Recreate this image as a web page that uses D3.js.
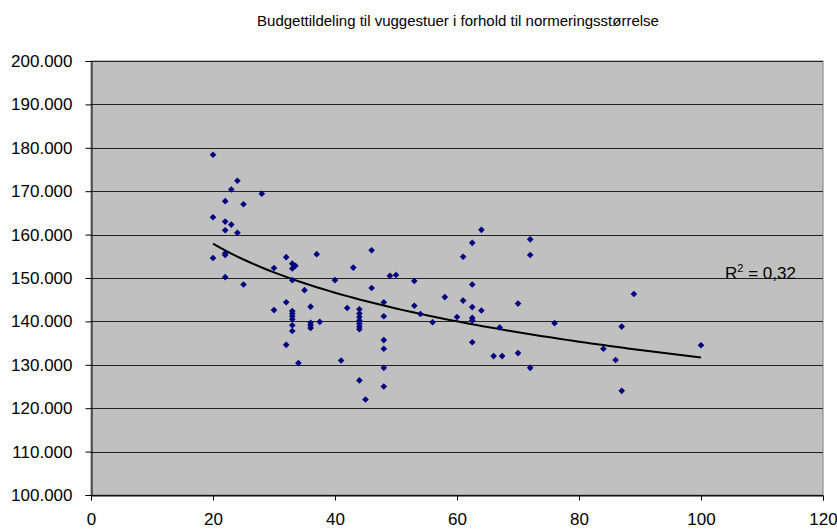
<!DOCTYPE html>
<html>
<head>
<meta charset="utf-8">
<script src="https://cdn.jsdelivr.net/npm/d3@7"></script>
<style>
  body { margin: 0; background: #fff; }
  svg text { font-family: "Liberation Sans", Arial, sans-serif; }
</style>
</head>
<body>
<svg id="chart" width="837" height="530"></svg>
<script>
// Budget allocation vs. normering size (scatter + log trendline)
const title = 'Budgettildeling til vuggestuer i forhold til normeringsstørrelse';

const normering = [
    20, 24, 23, 28, 22, 25, 20, 22, 23, 22, 24, 20, 22, 22, 22, 25,
    32, 30, 33, 33.5, 33, 33, 32, 30, 33, 33, 33, 33, 33, 33, 32, 34,
    37, 40, 43, 46, 49, 50, 53, 35, 46, 36, 48, 42, 44, 53, 54, 58,
    61, 62.5, 60, 62.5, 62.5, 62.5, 64, 56, 48, 36, 36, 36, 37.5,
    44, 44, 44, 44, 44, 44, 48, 48, 48, 48, 41, 44, 45,
    64, 62.5, 61, 72, 72, 62.5, 70, 89, 67, 76, 87, 66, 67.4, 70, 72,
    84, 86, 87, 100
];
const budget = [
    178400, 172400, 170400, 169400, 167700, 167000, 164000, 163000, 162300, 161000, 160400, 154600, 155700, 155300, 150200, 148500,
    154800, 152300, 153300, 152800, 152200, 149500, 144400, 142600, 142400, 141800, 141200, 140500, 139100, 137800, 134600, 130400,
    155500, 149500, 152400, 156400, 150500, 150700, 149300, 147200, 147700, 143400, 144400, 143100, 142800, 143600, 141700, 145600,
    144800, 143300, 141000, 140800, 140200, 135200, 142500, 139800, 141200, 139700, 139100, 138500, 139900,
    141800, 141000, 140200, 139500, 138800, 138200, 135700, 133700, 129300, 125000, 131000, 126400, 122000,
    161100, 158100, 154900, 158900, 155300, 148500, 144100, 146300, 138600, 139600, 138800, 132000, 132000, 132700, 129300,
    133700, 131100, 124000, 134500
];

// logarithmic trendline y = a + b*ln(x), as shown in the chart
const trendA = 206670;
const trendB = -16280;
const trendRange = [20, 100];
const rSquaredLabel = '0,32';

const xTicks = [0, 20, 40, 60, 80, 100, 120];
const yTicks = [100000, 110000, 120000, 130000, 140000, 150000, 160000, 170000, 180000, 190000, 200000];

const svg = d3.select('#chart');
const margin = { left: 91, right: 14, top: 61, bottom: 35 };
const width = 837, height = 530;
const fontSize = '17px';

const x = d3.scaleLinear().domain([0, 120]).range([margin.left, width - margin.right]);
const y = d3.scaleLinear().domain([100000, 200000]).range([height - margin.bottom, margin.top]);

const fmt = d => d3.format(',.0f')(d).replace(/,/g, '.');

// plot background
svg.append('rect')
    .attr('x', x(0)).attr('y', y(200000))
    .attr('width', x(120) - x(0)).attr('height', y(100000) - y(200000))
    .attr('fill', '#C0C0C0')
    .attr('stroke', '#808080').attr('stroke-width', 1);

// gridlines
svg.append('g')
    .selectAll('line')
    .data(yTicks)
    .join('line')
    .attr('x1', x(0)).attr('x2', x(120))
    .attr('y1', d => Math.round(y(d)) + 0.5).attr('y2', d => Math.round(y(d)) + 0.5)
    .attr('stroke', '#222').attr('stroke-width', 1);

// axes
const yAxis = svg.append('g')
    .attr('transform', `translate(${x(0) + 0.5},0)`)
    .call(d3.axisLeft(y).tickValues(yTicks).tickFormat(fmt).tickSize(6).tickPadding(13));
const xAxis = svg.append('g')
    .attr('transform', `translate(0,${Math.round(y(100000)) + 0.5})`)
    .call(d3.axisBottom(x).tickValues(xTicks).tickSize(5).tickPadding(12));

[yAxis, xAxis].forEach(g => {
    g.select('.domain').attr('stroke', '#000');
    g.selectAll('.tick line').attr('stroke', '#000');
    g.selectAll('text')
        .attr('fill', '#000')
        .style('font-size', fontSize)
        .style('font-family', '"Liberation Sans", Arial, sans-serif');
});

// trendline
const trendX = d3.range(trendRange[0], trendRange[1] + 0.5, 1);
svg.append('path')
    .datum(trendX)
    .attr('fill', 'none')
    .attr('stroke', '#000')
    .attr('stroke-width', 2)
    .attr('d', d3.line().x(d => x(d)).y(d => y(trendA + trendB * Math.log(d))));

// points (diamonds)
const diamond = d3.symbol().type(d3.symbolDiamond2).size(28);
svg.append('g')
    .selectAll('path')
    .data(normering.map((n, i) => [n, budget[i]]))
    .join('path')
    .attr('d', diamond)
    .attr('transform', d => `translate(${x(d[0])},${y(d[1])})`)
    .attr('fill', '#000080');

// R² label
const r2 = svg.append('text')
    .attr('x', 725).attr('y', 279)
    .style('font-size', fontSize)
    .attr('fill', '#000');
r2.append('tspan').text('R');
r2.append('tspan').attr('dy', -7).style('font-size', '11px').text('2');
r2.append('tspan').attr('dy', 7).text(' = ' + rSquaredLabel);

// title
svg.append('text')
    .attr('x', 458).attr('y', 26)
    .attr('text-anchor', 'middle')
    .style('font-size', '15px')
    .attr('fill', '#000')
    .text(title);
</script>
</body>
</html>
